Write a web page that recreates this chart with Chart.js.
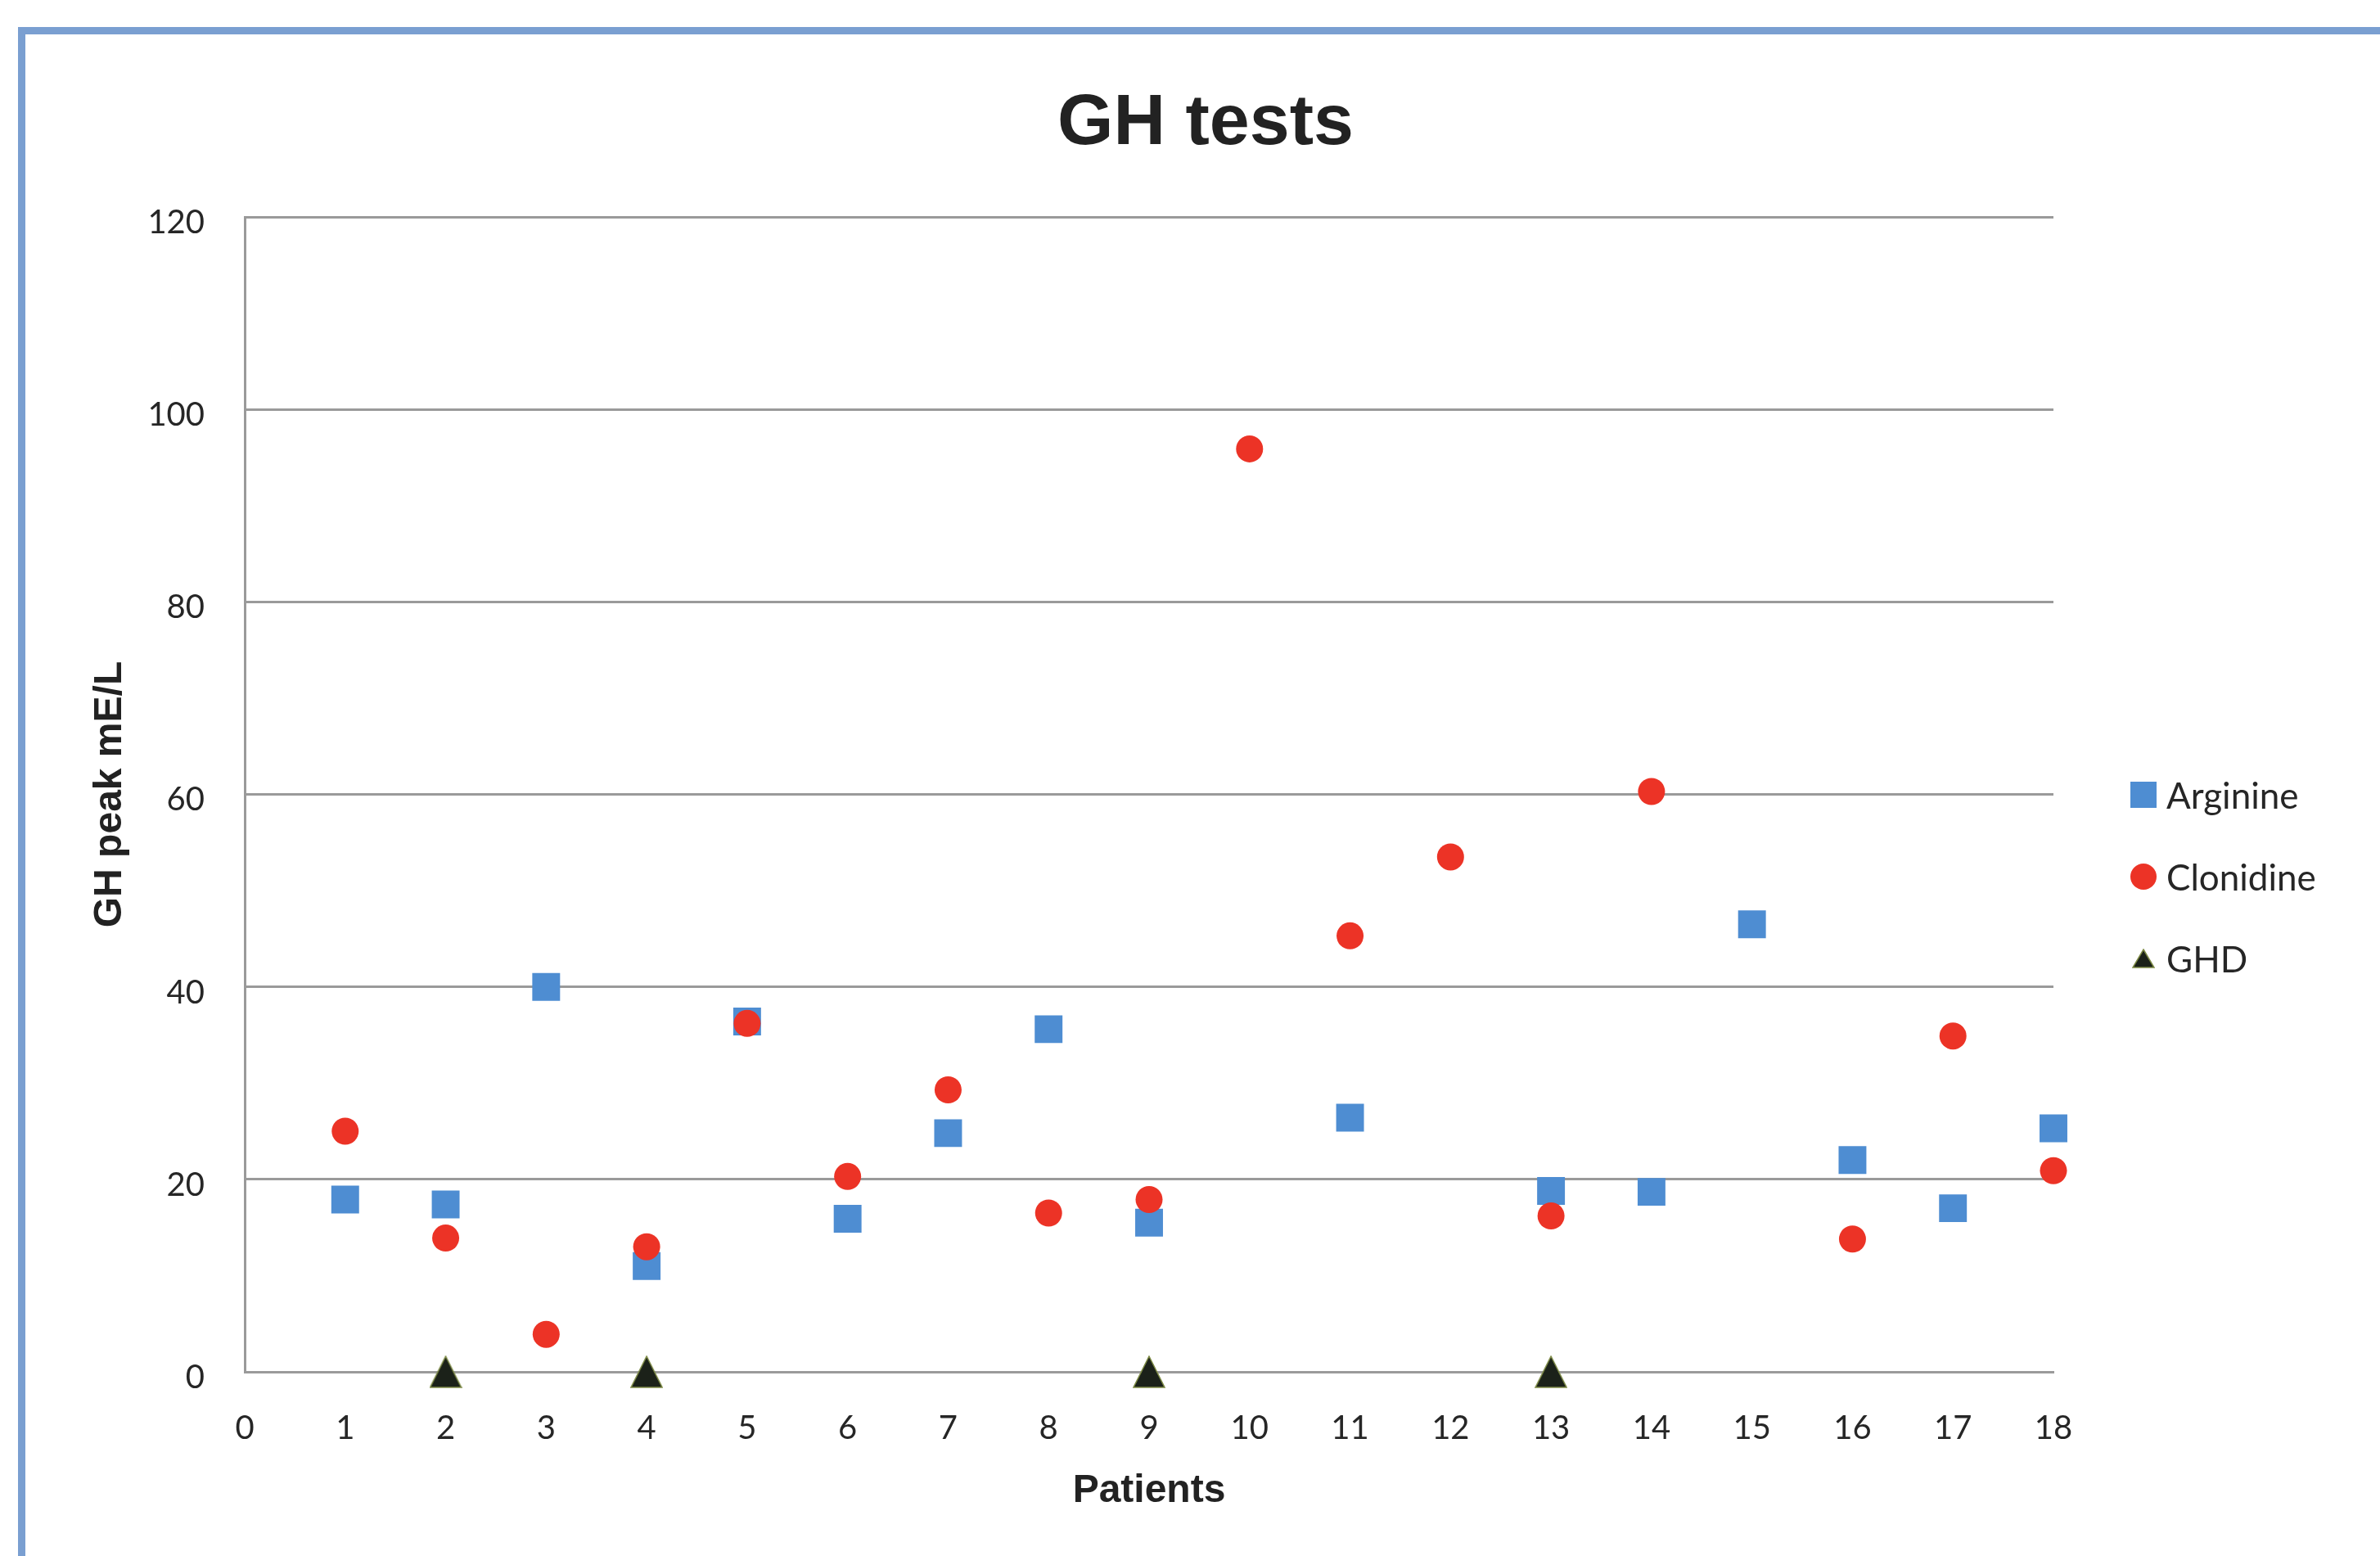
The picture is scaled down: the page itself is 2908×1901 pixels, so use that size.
<!DOCTYPE html>
<html>
<head>
<meta charset="utf-8">
<title>GH tests</title>
<script src="https://cdn.jsdelivr.net/npm/chart.js@4.4.1/dist/chart.umd.min.js"></script>
<style>
  html, body { margin: 0; padding: 0; background: #fff; overflow: hidden; }
  .wrap { position: relative; width: 2908px; height: 1901px; }
  .wrap canvas { position: absolute; left: 0; top: 0; }
  .frame {
    position: absolute; left: 22px; top: 33px; width: 2940px; height: 1920px;
    border: 9px solid #7a9fd1; box-sizing: border-box; pointer-events: none;
  }
</style>
</head>
<body>
<div class="wrap">
  <canvas id="ghChart" width="2908" height="1901"></canvas>
  <div class="frame"></div>
</div>
<script>
// data
const patients = [1, 2, 3, 4, 5, 6, 7, 8, 9, 10, 11, 12, 13, 14, 15, 16, 17, 18];
const arginine = [17.9, 17.4, 40.0, 11.0, 36.4, 15.9, 24.8, 35.6, 15.5, null, 26.4, null, 18.8, 18.7, 46.5, 22.0, 17.0, 25.3];
const clonidine = [25.0, 13.9, 3.9, 13.0, 36.2, 20.3, 29.3, 16.5, 17.9, 95.9, 45.3, 53.5, 16.2, 60.3, null, 13.8, 34.9, 20.9];
const ghdPatients = [2, 4, 9, 13];
const ghd = [0, 0, 0, 0];
const xTicks = [0, 1, 2, 3, 4, 5, 6, 7, 8, 9, 10, 11, 12, 13, 14, 15, 16, 17, 18];
const yTicks = [0, 20, 40, 60, 80, 100, 120];

const blue = '#4e8dd2';
const red = '#ec3326';
const gridGray = '#9a9a9a';
const textGray = '#262626';

// triangle marker, centred on its box like the Excel one
const makeTriangle = (w, h) => {
    const c = document.createElement('canvas');
    c.width = w;
    c.height = h;
    const t = c.getContext('2d');
    t.beginPath();
    t.moveTo(w / 2, 1);
    t.lineTo(w - 1, h - 1);
    t.lineTo(1, h - 1);
    t.closePath();
    t.fillStyle = '#1b2119';
    t.fill();
    t.strokeStyle = '#7d8a45';
    t.lineWidth = 1.5;
    t.stroke();
    return c;
}
const triangle = makeTriangle(40, 40);
const smallTriangle = makeTriangle(28, 24);

const toPoints = (xs, ys) => xs.map((x, i) => ({x: x, y: ys[i]}));

// title + legend drawn beside the plot
const labelsPlugin = {
    id: 'labelsPlugin',
    afterDraw(chart) {
        const ctx = chart.ctx;
        ctx.save();
        ctx.fillStyle = '#222';
        ctx.textAlign = 'center';
        ctx.textBaseline = 'middle';
        ctx.font = 'bold 88px "Liberation Sans", Arial, sans-serif';
        ctx.fillText('GH tests', 1473, 152);

        const items = [
            {text: 'Arginine', style: 'rect', color: blue},
            {text: 'Clonidine', style: 'circle', color: red},
            {text: 'GHD', style: 'triangle'}
        ];
        const mx = 2619;
        ctx.font = '44px Lato, "Open Sans", sans-serif';
        ctx.textAlign = 'left';
        items.forEach((item, i) => {
            const y = 971 + i * 100;
            if (item.style === 'rect') {
                ctx.fillStyle = item.color;
                ctx.fillRect(mx - 16, y - 16, 32, 32);
            } else if (item.style === 'circle') {
                ctx.fillStyle = item.color;
                ctx.beginPath();
                ctx.arc(mx, y, 16, 0, Math.PI * 2);
                ctx.fill();
            } else {
                ctx.drawImage(smallTriangle, mx - 14, y - 12);
            }
            ctx.fillStyle = textGray;
            ctx.fillText(item.text, 2647, y + 3);
        });
        ctx.restore();
    }
}

const ctx = document.getElementById('ghChart').getContext('2d');

const chart = new Chart(ctx, {
    type: 'scatter',
    data: {
        datasets: [{
            label: 'Arginine',
            data: toPoints(patients, arginine),
            pointStyle: 'rect',
            pointRadius: 24,
            pointHoverRadius: 24,
            backgroundColor: blue,
            borderColor: blue,
            borderWidth: 0,
            clip: false,
            order: 2
        }, {
            label: 'Clonidine',
            data: toPoints(patients, clonidine),
            pointStyle: 'circle',
            pointRadius: 16.5,
            pointHoverRadius: 16.5,
            backgroundColor: red,
            borderColor: red,
            borderWidth: 0,
            clip: false,
            order: 1
        }, {
            label: 'GHD',
            data: toPoints(ghdPatients, ghd),
            pointStyle: triangle,
            clip: false,
            order: 0
        }]
    },
    options: {
        responsive: false,
        animation: false,
        layout: {
            padding: {top: 265, right: 399, bottom: 0, left: 0}
        },
        plugins: {
            legend: {display: false},
            title: {display: false},
            tooltip: {enabled: false}
        },
        scales: {
            x: {
                type: 'linear',
                min: 0,
                max: 18,
                afterBuildTicks: s => { s.ticks = xTicks.map(v => ({value: v})); },
                afterFit: s => { s.height = 225; },
                ticks: {
                    font: {family: 'Lato', size: 40},
                    color: textGray,
                    padding: 45,
                    maxRotation: 0
                },
                grid: {display: false, drawTicks: false},
                border: {display: true, color: gridGray, width: 3},
                title: {
                    display: true,
                    text: 'Patients',
                    color: '#222',
                    font: {family: 'Liberation Sans', weight: 'bold', size: 48},
                    padding: {top: 0, bottom: 50}
                }
            },
            y: {
                min: 0,
                max: 120,
                afterBuildTicks: s => { s.ticks = yTicks.map(v => ({value: v})); },
                afterFit: s => { s.width = 299; },
                ticks: {
                    font: {family: 'Lato', size: 40},
                    color: textGray,
                    padding: 49,
                    labelOffset: 7
                },
                grid: {color: gridGray, lineWidth: 3, drawTicks: false},
                border: {display: true, color: gridGray, width: 3},
                title: {
                    display: true,
                    text: 'GH peak mE/L',
                    color: '#222',
                    font: {family: 'Liberation Sans', weight: 'bold', size: 48},
                    padding: {top: 106, bottom: 0}
                }
            }
        }
    },
    plugins: [labelsPlugin]
});
</script>
</body>
</html>
